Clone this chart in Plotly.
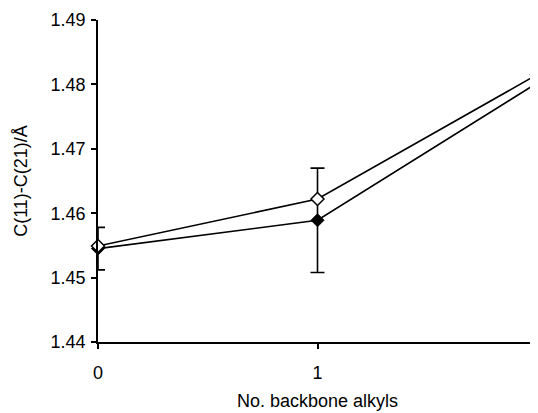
import plotly.graph_objects as go

x_vals = [0, 1, 2]
filled_y = [1.4545, 1.4589, 1.4802]
filled_err = [0.0033, 0.0081, 0.0016]
open_y = [1.4549, 1.4622, 1.4815]

y_ticks = [1.44, 1.45, 1.46, 1.47, 1.48, 1.49]
y_tick_text = ["1.44", "1.45", "1.46", "1.47", "1.48", "1.49"]
x_ticks = [0, 1, 2]
x_tick_text = ["0", "1", "2"]

fig = go.Figure()
fig.add_trace(go.Scatter(
    x=x_vals, y=filled_y, mode="lines+markers",
    line=dict(color="black", width=1.6),
    marker=dict(symbol="diamond", size=10, color="black", line=dict(color="black", width=1)),
    error_y=dict(type="data", array=filled_err, visible=True, color="black", thickness=1.6, width=7),
    cliponaxis=False, showlegend=False,
))
fig.add_trace(go.Scatter(
    x=x_vals, y=open_y, mode="lines+markers",
    line=dict(color="black", width=1.6),
    marker=dict(symbol="diamond", size=10, color="white", line=dict(color="black", width=1.5)),
    cliponaxis=False, showlegend=False,
))

font = dict(family="Liberation Sans, Arial, sans-serif", size=18, color="black")
# page body has an 8px default margin; figure size/margins compensate for it
fig.update_layout(
    width=530, height=405,
    margin=dict(l=90, r=1, t=12, b=71),
    plot_bgcolor="white", paper_bgcolor="white",
    font=font,
    xaxis=dict(
        range=[0, 2], tickvals=x_ticks, ticktext=x_tick_text, automargin=False,
        ticklabeloverflow="allow",
        showgrid=False, zeroline=False, showline=True, linecolor="black", linewidth=1.5,
        ticks="outside", ticklen=5, tickwidth=1.5, tickcolor="black", ticklabelstandoff=9,
        title=dict(text="No. backbone alkyls", font=dict(size=18), standoff=12),
    ),
    yaxis=dict(
        range=[1.44, 1.49], tickvals=y_ticks, ticktext=y_tick_text, automargin=False,
        showgrid=False, zeroline=False, showline=True, linecolor="black", linewidth=1.5,
        ticks="outside", ticklen=5, tickwidth=1.5, tickcolor="black", ticklabelstandoff=2,
        title=dict(text="C(11)-C(21)/Å", font=dict(size=18), standoff=18),
    ),
)

fig.write_html("out.html")
